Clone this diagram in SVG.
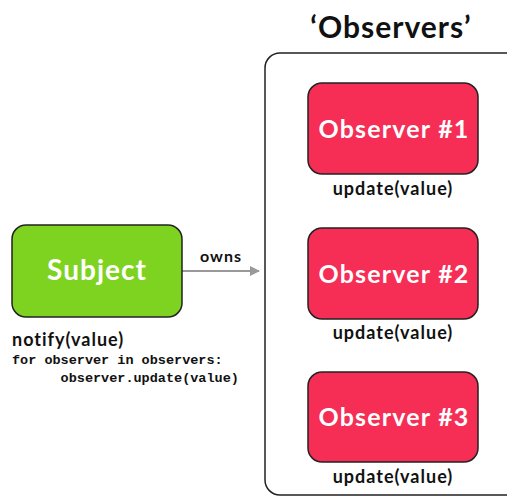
<svg xmlns="http://www.w3.org/2000/svg" width="507" height="497" viewBox="0 0 507 497">
<defs>
<style>
.box{stroke:#222;stroke-width:1.5}
.obs{fill:#f62d55}
.sub{fill:#7ed321}
.lbl{font-family:Lato,"Open Sans",sans-serif;font-weight:bold;fill:#fff;text-anchor:middle}
.cap{font-family:Lato,"Open Sans",sans-serif;font-weight:bold;fill:#111;font-size:18px;letter-spacing:1px}
.code{font-family:"Liberation Mono",monospace;font-weight:bold;font-size:13.5px;fill:#111}
</style>
<marker id="ah" markerWidth="10" markerHeight="10" refX="9" refY="5" orient="auto" markerUnits="userSpaceOnUse" viewBox="0 0 10 10">
<path d="M0,0 L10,5 L0,10 z" fill="#999"/>
</marker>
</defs>
<rect width="507" height="497" fill="#fff"/>
<g id="observers">
<text x="391" y="38" text-anchor="middle" font-family="Lato,'Open Sans',sans-serif" font-weight="bold" font-size="30" letter-spacing="1" fill="#111">‘Observers’</text>
<rect x="265" y="53" width="260" height="442" rx="15" fill="none" stroke="#222" stroke-width="1.5"/>
</g>
<g id="connectors">
<line x1="182" y1="271" x2="259" y2="271" stroke="#999" stroke-width="2" marker-end="url(#ah)"/>
<text x="221" y="262" text-anchor="middle" class="cap" style="font-size:16px;letter-spacing:1px">owns</text>
</g>
<g id="subject">
<rect class="box sub" x="12" y="225" width="170" height="92" rx="14"/>
<text class="lbl" x="97" y="280" font-size="28" letter-spacing="1">Subject</text>
<text class="cap" x="12" y="346">notify(value)</text>
<text class="code" x="12" y="364" xml:space="preserve">for observer in observers:</text>
<text class="code" x="12" y="382" xml:space="preserve">      observer.update(value)</text>
</g>
<g id="observer1">
<rect class="box obs" x="308" y="83" width="170" height="91" rx="14"/>
<text class="lbl" x="394" y="138" font-size="25" letter-spacing="1.2">Observer #1</text>
<text class="cap" x="393" y="195" text-anchor="middle">update(value)</text>
</g>
<g id="observer2">
<rect class="box obs" x="308" y="228" width="170" height="91" rx="14"/>
<text class="lbl" x="394" y="283" font-size="25" letter-spacing="1.2">Observer #2</text>
<text class="cap" x="393" y="339" text-anchor="middle">update(value)</text>
</g>
<g id="observer3">
<rect class="box obs" x="308" y="372" width="170" height="90" rx="14"/>
<text class="lbl" x="394" y="426" font-size="25" letter-spacing="1.2">Observer #3</text>
<text class="cap" x="393" y="483" text-anchor="middle">update(value)</text>
</g>
</svg>
